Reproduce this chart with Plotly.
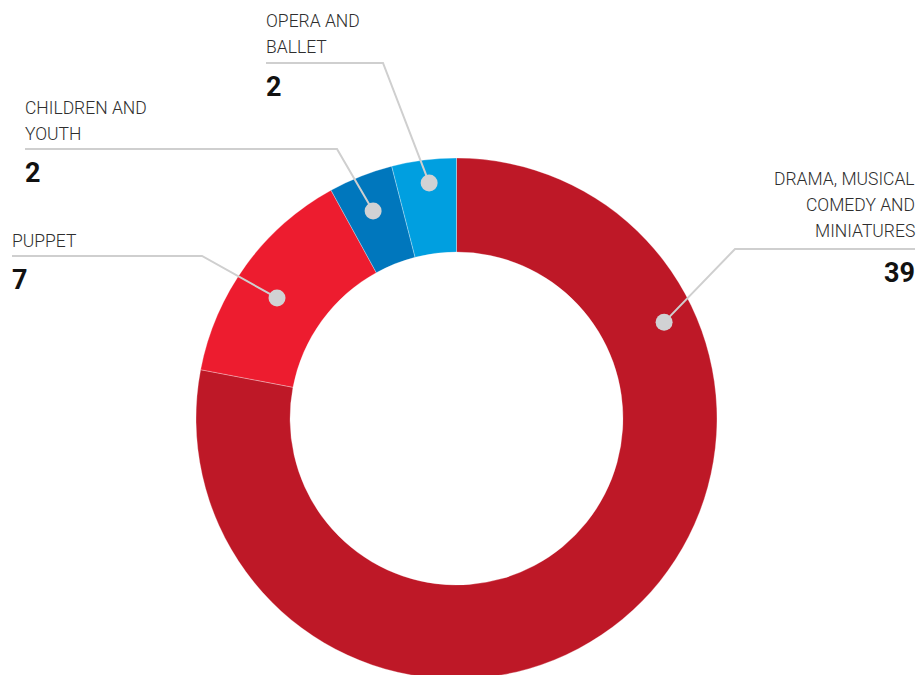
import math
import plotly.graph_objects as go

# ---- data ----
categories = ["DRAMA, MUSICAL COMEDY AND MINIATURES", "PUPPET", "CHILDREN AND YOUTH", "OPERA AND BALLET"]
values = [39, 7, 2, 2]
label_lines = [["DRAMA, MUSICAL", "COMEDY AND", "MINIATURES"], ["PUPPET"], ["CHILDREN AND", "YOUTH"], ["OPERA AND", "BALLET"]]
colors = ["#BE1827", "#ED1C2F", "#0077BD", "#009FE0"]

W, H = 919, 680          # slightly taller than the window: the ring is cut at the bottom
CX, CY, R = 456.5, 418.5, 260.5
HOLE = 0.639

def px(x):
    return x / W

def py(y):
    return 1 - y / H

# label layout (pixel): anchor x, first text line y, rule y, elbow x, align
label_layout = [
    dict(x=917, y0=179, rule=249, elbow=735, end=915, align="right"),
    dict(x=10, y0=241, rule=256, elbow=202, end=12, align="left"),
    dict(x=23, y0=108, rule=149, elbow=337, end=25, align="left"),
    dict(x=264, y0=21, rule=63, elbow=383, end=266, align="left"),
]
# where along each slice (fraction of slice span) and at which radius the dot sits
dot_frac = [0.232, 0.458, 0.48, 0.54]
dot_rad = [228.8, 216.2, 223.7, 237.1]

fig = go.Figure(go.Pie(
    labels=categories, values=values, hole=HOLE, sort=False, direction="clockwise",
    rotation=0, marker=dict(colors=colors, line=dict(color="rgba(255,255,255,0.5)", width=0.6)),
    textinfo="none", hoverinfo="label+value", showlegend=False,
    domain=dict(x=[px(CX - R), px(CX + R)], y=[py(CY + R), py(CY - R)]),
))

shapes = []
annotations = []
total = sum(values)
cum = 0
for i, v in enumerate(values):
    start = cum / total * 360
    span = v / total * 360
    cum += v
    ang = math.radians(start + dot_frac[i] * span)
    dx = CX + dot_rad[i] * math.sin(ang)
    dy = CY - dot_rad[i] * math.cos(ang)
    L = label_layout[i]
    # leader line
    shapes.append(dict(
        type="path", xref="paper", yref="paper",
        path=f"M {px(L['end'])},{py(L['rule'])} L {px(L['elbow'])},{py(L['rule'])} L {px(dx)},{py(dy)}",
        line=dict(color="#CFCFCF", width=2),
    ))
    rr = 8.5
    shapes.append(dict(
        type="circle", xref="paper", yref="paper",
        x0=px(dx - rr), x1=px(dx + rr), y0=py(dy + rr), y1=py(dy - rr),
        fillcolor="#D1D2D4", line=dict(width=0),
    ))
    xa = "right" if L["align"] == "right" else "left"
    for j, t in enumerate(label_lines[i]):
        annotations.append(dict(
            text=t, x=px(L["x"]), y=py(L["y0"] + 26 * j), xref="paper", yref="paper",
            xanchor=xa, yanchor="middle", showarrow=False,
            font=dict(family="Roboto", size=17.5, color="#2E2E2E", weight=300),
        ))
    annotations.append(dict(
        text=str(v), x=px(L["x"]), y=py(L["rule"] + 24), xref="paper", yref="paper",
        xanchor=xa, yanchor="middle", showarrow=False,
        font=dict(family="Roboto", size=27, color="#111111", weight=700),
    ))

fig.update_layout(
    width=W, height=H, margin=dict(l=0, r=0, t=0, b=0),
    paper_bgcolor="white", plot_bgcolor="white",
    shapes=shapes, annotations=annotations,
)
fig.write_html("out.html", config={"displayModeBar": False},
               post_script="document.body.style.margin='0';document.body.style.overflow='hidden';")
